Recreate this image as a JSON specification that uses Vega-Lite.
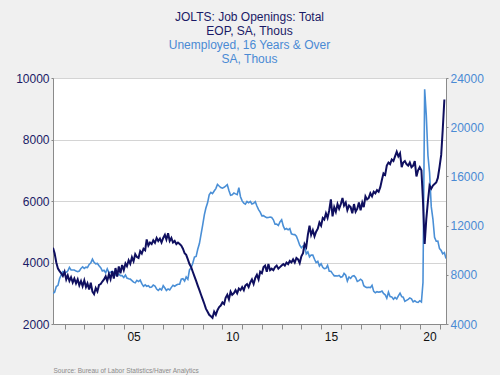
{
"$schema": "https://vega.github.io/schema/vega-lite/v6.json",
"width": 393, "height": 246,
"autosize": {"type": "none"},
"padding": {"left": 53, "top": 78, "right": 54, "bottom": 51},
"background": "#f0f0f0",
"config": {"view": {"fill": "white", "stroke": "#9a9a9a", "strokeWidth": 1}, "font": "Liberation Sans"},
"title": {"text": ["JOLTS: Job Openings: Total", "EOP, SA, Thous"], "subtitle": ["Unemployed, 16 Years & Over", "SA, Thous"], "anchor": "middle", "frame": "group", "color": "#1a1a66", "subtitleColor": "#4a8ad4", "fontSize": 12, "subtitleFontSize": 12, "fontWeight": "normal", "lineHeight": 14, "subtitleLineHeight": 14, "subtitlePadding": 2, "offset": 6, "font": "Liberation Sans", "subtitleFont": "Liberation Sans"},
"data": {"values": [
{"d":"2001-06","j":4480,"u":6484},{"d":"2001-07","j":4300,"u":6583},{"d":"2001-08","j":4000,"u":7042},{"d":"2001-09","j":3800,"u":7142},{"d":"2001-10","j":3720,"u":7694},{"d":"2001-11","j":3650,"u":8003},{"d":"2001-12","j":3560,"u":8258},
{"d":"2002-01","j":3700,"u":8182},{"d":"2002-02","j":3450,"u":8215},{"d":"2002-03","j":3580,"u":8304},{"d":"2002-04","j":3400,"u":8599},{"d":"2002-05","j":3520,"u":8399},{"d":"2002-06","j":3350,"u":8393},{"d":"2002-07","j":3480,"u":8390},{"d":"2002-08","j":3320,"u":8304},{"d":"2002-09","j":3450,"u":8251},{"d":"2002-10","j":3260,"u":8307},{"d":"2002-11","j":3400,"u":8520},{"d":"2002-12","j":3230,"u":8640},
{"d":"2003-01","j":3420,"u":8520},{"d":"2003-02","j":3200,"u":8618},{"d":"2003-03","j":3320,"u":8588},{"d":"2003-04","j":3120,"u":8842},{"d":"2003-05","j":3340,"u":8957},{"d":"2003-06","j":3050,"u":9266},{"d":"2003-07","j":2970,"u":9011},{"d":"2003-08","j":3170,"u":8896},{"d":"2003-09","j":3060,"u":8921},{"d":"2003-10","j":3270,"u":8732},{"d":"2003-11","j":3300,"u":8576},{"d":"2003-12","j":3380,"u":8317},
{"d":"2004-01","j":3450,"u":8370},{"d":"2004-02","j":3550,"u":8167},{"d":"2004-03","j":3400,"u":8491},{"d":"2004-04","j":3620,"u":8170},{"d":"2004-05","j":3460,"u":8212},{"d":"2004-06","j":3720,"u":8286},{"d":"2004-07","j":3480,"u":8136},{"d":"2004-08","j":3820,"u":7990},{"d":"2004-09","j":3540,"u":7927},{"d":"2004-10","j":3870,"u":8061},{"d":"2004-11","j":3650,"u":7932},{"d":"2004-12","j":3920,"u":7934},
{"d":"2005-01","j":3750,"u":7784},{"d":"2005-02","j":3970,"u":7980},{"d":"2005-03","j":3880,"u":7737},{"d":"2005-04","j":4070,"u":7672},{"d":"2005-05","j":3960,"u":7651},{"d":"2005-06","j":4170,"u":7524},{"d":"2005-07","j":4040,"u":7406},{"d":"2005-08","j":4270,"u":7345},{"d":"2005-09","j":4180,"u":7553},{"d":"2005-10","j":4150,"u":7453},{"d":"2005-11","j":4370,"u":7566},{"d":"2005-12","j":4290,"u":7279},
{"d":"2006-01","j":4450,"u":7064},{"d":"2006-02","j":4400,"u":7184},{"d":"2006-03","j":4750,"u":7072},{"d":"2006-04","j":4550,"u":7120},{"d":"2006-05","j":4650,"u":6980},{"d":"2006-06","j":4600,"u":7001},{"d":"2006-07","j":4720,"u":7175},{"d":"2006-08","j":4640,"u":7091},{"d":"2006-09","j":4800,"u":6847},{"d":"2006-10","j":4700,"u":6727},{"d":"2006-11","j":4780,"u":6872},{"d":"2006-12","j":4650,"u":6762},
{"d":"2007-01","j":4800,"u":7116},{"d":"2007-02","j":4900,"u":6927},{"d":"2007-03","j":4750,"u":6731},{"d":"2007-04","j":4950,"u":6850},{"d":"2007-05","j":4700,"u":6766},{"d":"2007-06","j":4800,"u":6979},{"d":"2007-07","j":4650,"u":7149},{"d":"2007-08","j":4700,"u":7067},{"d":"2007-09","j":4600,"u":7170},{"d":"2007-10","j":4650,"u":7237},{"d":"2007-11","j":4600,"u":7240},{"d":"2007-12","j":4550,"u":7645},
{"d":"2008-01","j":4450,"u":7685},{"d":"2008-02","j":4300,"u":7497},{"d":"2008-03","j":4250,"u":7822},{"d":"2008-04","j":4100,"u":7637},{"d":"2008-05","j":3950,"u":8395},{"d":"2008-06","j":3850,"u":8575},{"d":"2008-07","j":3700,"u":8937},{"d":"2008-08","j":3550,"u":9438},{"d":"2008-09","j":3400,"u":9494},{"d":"2008-10","j":3250,"u":10074},{"d":"2008-11","j":3100,"u":10538},{"d":"2008-12","j":2950,"u":11286},
{"d":"2009-01","j":2800,"u":12058},{"d":"2009-02","j":2650,"u":12898},{"d":"2009-03","j":2500,"u":13426},{"d":"2009-04","j":2400,"u":13853},{"d":"2009-05","j":2300,"u":14499},{"d":"2009-06","j":2250,"u":14707},{"d":"2009-07","j":2200,"u":14601},{"d":"2009-08","j":2400,"u":14814},{"d":"2009-09","j":2300,"u":15009},{"d":"2009-10","j":2450,"u":15352},{"d":"2009-11","j":2550,"u":15219},{"d":"2009-12","j":2600,"u":15098},
{"d":"2010-01","j":2700,"u":15046},{"d":"2010-02","j":2650,"u":15113},{"d":"2010-03","j":2850,"u":15202},{"d":"2010-04","j":2950,"u":15325},{"d":"2010-05","j":2800,"u":14849},{"d":"2010-06","j":3050,"u":14474},{"d":"2010-07","j":2950,"u":14512},{"d":"2010-08","j":3000,"u":14648},{"d":"2010-09","j":3100,"u":14579},{"d":"2010-10","j":3000,"u":14516},{"d":"2010-11","j":3150,"u":15081},{"d":"2010-12","j":3100,"u":14348},
{"d":"2011-01","j":3200,"u":14013},{"d":"2011-02","j":3100,"u":13820},{"d":"2011-03","j":3250,"u":13737},{"d":"2011-04","j":3300,"u":13957},{"d":"2011-05","j":3200,"u":13855},{"d":"2011-06","j":3350,"u":13962},{"d":"2011-07","j":3450,"u":13763},{"d":"2011-08","j":3300,"u":13818},{"d":"2011-09","j":3500,"u":13948},{"d":"2011-10","j":3600,"u":13594},{"d":"2011-11","j":3450,"u":13302},{"d":"2011-12","j":3700,"u":13093},
{"d":"2012-01","j":3650,"u":12797},{"d":"2012-02","j":3850,"u":12813},{"d":"2012-03","j":3900,"u":12713},{"d":"2012-04","j":3700,"u":12646},{"d":"2012-05","j":3950,"u":12660},{"d":"2012-06","j":3750,"u":12692},{"d":"2012-07","j":3800,"u":12656},{"d":"2012-08","j":3750,"u":12471},{"d":"2012-09","j":3850,"u":12115},{"d":"2012-10","j":3900,"u":12124},{"d":"2012-11","j":3800,"u":12005},{"d":"2012-12","j":3850,"u":12298},
{"d":"2013-01","j":3900,"u":12471},{"d":"2013-02","j":3950,"u":11950},{"d":"2013-03","j":3900,"u":11689},{"d":"2013-04","j":4000,"u":11760},{"d":"2013-05","j":3950,"u":11654},{"d":"2013-06","j":4050,"u":11751},{"d":"2013-07","j":4000,"u":11335},{"d":"2013-08","j":4100,"u":11279},{"d":"2013-09","j":4000,"u":11270},{"d":"2013-10","j":4150,"u":11136},{"d":"2013-11","j":4100,"u":10787},{"d":"2013-12","j":3980,"u":10404},
{"d":"2014-01","j":4200,"u":10202},{"d":"2014-02","j":4300,"u":10349},{"d":"2014-03","j":4600,"u":10380},{"d":"2014-04","j":4500,"u":9702},{"d":"2014-05","j":4900,"u":9859},{"d":"2014-06","j":5200,"u":9460},{"d":"2014-07","j":4900,"u":9608},{"d":"2014-08","j":5050,"u":9599},{"d":"2014-09","j":4850,"u":9262},{"d":"2014-10","j":5000,"u":8990},{"d":"2014-11","j":5100,"u":9090},{"d":"2014-12","j":5300,"u":8717},
{"d":"2015-01","j":5200,"u":8903},{"d":"2015-02","j":5450,"u":8610},{"d":"2015-03","j":5400,"u":8504},{"d":"2015-04","j":5600,"u":8526},{"d":"2015-05","j":5450,"u":8770},{"d":"2015-06","j":5700,"u":8297},{"d":"2015-07","j":6050,"u":8286},{"d":"2015-08","j":5500,"u":8096},{"d":"2015-09","j":5800,"u":7915},{"d":"2015-10","j":5650,"u":7927},{"d":"2015-11","j":5900,"u":7907},{"d":"2015-12","j":5750,"u":7942},
{"d":"2016-01","j":5900,"u":7802},{"d":"2016-02","j":6100,"u":7854},{"d":"2016-03","j":5850,"u":8110},{"d":"2016-04","j":5950,"u":7962},{"d":"2016-05","j":5700,"u":7492},{"d":"2016-06","j":5850,"u":7820},{"d":"2016-07","j":5800,"u":7706},{"d":"2016-08","j":5600,"u":7895},{"d":"2016-09","j":5900,"u":7933},{"d":"2016-10","j":5650,"u":7783},{"d":"2016-11","j":5750,"u":7458},{"d":"2016-12","j":5950,"u":7530},
{"d":"2017-01","j":5700,"u":7643},{"d":"2017-02","j":5950,"u":7528},{"d":"2017-03","j":5800,"u":7110},{"d":"2017-04","j":6150,"u":7014},{"d":"2017-05","j":6050,"u":6959},{"d":"2017-06","j":6100,"u":6986},{"d":"2017-07","j":6250,"u":6955},{"d":"2017-08","j":6150,"u":7138},{"d":"2017-09","j":6300,"u":6655},{"d":"2017-10","j":6250,"u":6540},{"d":"2017-11","j":6350,"u":6631},{"d":"2017-12","j":6300,"u":6589},
{"d":"2018-01","j":6450,"u":6610},{"d":"2018-02","j":6700,"u":6675},{"d":"2018-03","j":6900,"u":6478},{"d":"2018-04","j":6850,"u":6380},{"d":"2018-05","j":7150,"u":6091},{"d":"2018-06","j":7250,"u":6587},{"d":"2018-07","j":7200,"u":6224},{"d":"2018-08","j":7350,"u":6205},{"d":"2018-09","j":7300,"u":6008},{"d":"2018-10","j":7450,"u":6164},{"d":"2018-11","j":7600,"u":6033},{"d":"2018-12","j":7450,"u":6285},
{"d":"2019-01","j":7550,"u":6501},{"d":"2019-02","j":7100,"u":6219},{"d":"2019-03","j":7250,"u":6180},{"d":"2019-04","j":7300,"u":5838},{"d":"2019-05","j":7200,"u":5920},{"d":"2019-06","j":7150,"u":6004},{"d":"2019-07","j":7250,"u":6115},{"d":"2019-08","j":7100,"u":6050},{"d":"2019-09","j":7150,"u":5800},{"d":"2019-10","j":7300,"u":5890},{"d":"2019-11","j":6800,"u":5779},{"d":"2019-12","j":7000,"u":5753},
{"d":"2020-01","j":7100,"u":5892},{"d":"2020-02","j":7000,"u":5787},{"d":"2020-03","j":6000,"u":7370},{"d":"2020-04","j":4600,"u":23078},{"d":"2020-05","j":5400,"u":20985},{"d":"2020-06","j":6000,"u":17697},{"d":"2020-07","j":6500,"u":16308},{"d":"2020-08","j":6400,"u":13542},{"d":"2020-09","j":6500,"u":12535},{"d":"2020-10","j":6550,"u":11049},{"d":"2020-11","j":6600,"u":10728},{"d":"2020-12","j":6750,"u":10736},
{"d":"2021-01","j":7100,"u":10130},{"d":"2021-02","j":7500,"u":9972},{"d":"2021-03","j":8300,"u":9710},{"d":"2021-04","j":9300,"u":9812},{"d":"2021-05","j":null,"u":9316}
]},
"encoding": {
"x": {"field": "d", "type": "temporal", "scale": {"type": "utc", "domain": [{"year": 2001, "month": 6, "date": 1, "utc": true}, {"year": 2021, "month": 5, "date": 1, "utc": true}]},
"axis": {"title": "Source:  Bureau of Labor Statistics/Haver Analytics", "titleAnchor": "start", "titleFontSize": 6.5, "titleColor": "#8a8a8a", "titleFontWeight": "normal", "titlePadding": 25, "tickCount": {"interval": "year", "step": 1}, "labelExpr": "utcyear(datum.value) % 5 == 0 ? utcFormat(datum.value, '%y') : ''", "labelOffset": 9.8, "labelFlush": false, "labelOverlap": false, "labelColor": "#111111", "labelFontSize": 12, "tickSize": 5, "tickColor": "#8a8a8a", "domainColor": "#8a8a8a", "grid": false, "labelPadding": 2}}
},
"layer": [
{
"mark": {"type": "line", "color": "#4a8fd6", "strokeWidth": 1.6, "clip": true},
"encoding": {
"y": {"field": "u", "type": "quantitative", "scale": {"domain": [4000, 24000], "nice": false}, "axis": {"orient": "right", "values": [4000, 8000, 12000, 16000, 20000, 24000], "format": "d", "title": null, "labelColor": "#4a8ad4", "labelFontSize": 12, "tickSize": 2, "tickColor": "#8a8a8a", "domainColor": "#8a8a8a", "grid": false, "labelPadding": 2}}
}
},
{
"mark": {"type": "line", "color": "#0f0f5f", "strokeWidth": 2, "clip": true},
"encoding": {
"y": {"field": "j", "type": "quantitative", "scale": {"domain": [2000, 10000], "nice": false}, "axis": {"orient": "left", "values": [2000, 4000, 6000, 8000, 10000], "format": "d", "title": null, "labelColor": "#1a1a66", "labelFontSize": 12, "tickSize": 2, "tickColor": "#8a8a8a", "domainColor": "#8a8a8a", "grid": true, "gridColor": "#d4d4d4", "labelPadding": 2}}
}
}
],
"resolve": {"scale": {"y": "independent"}}
}
